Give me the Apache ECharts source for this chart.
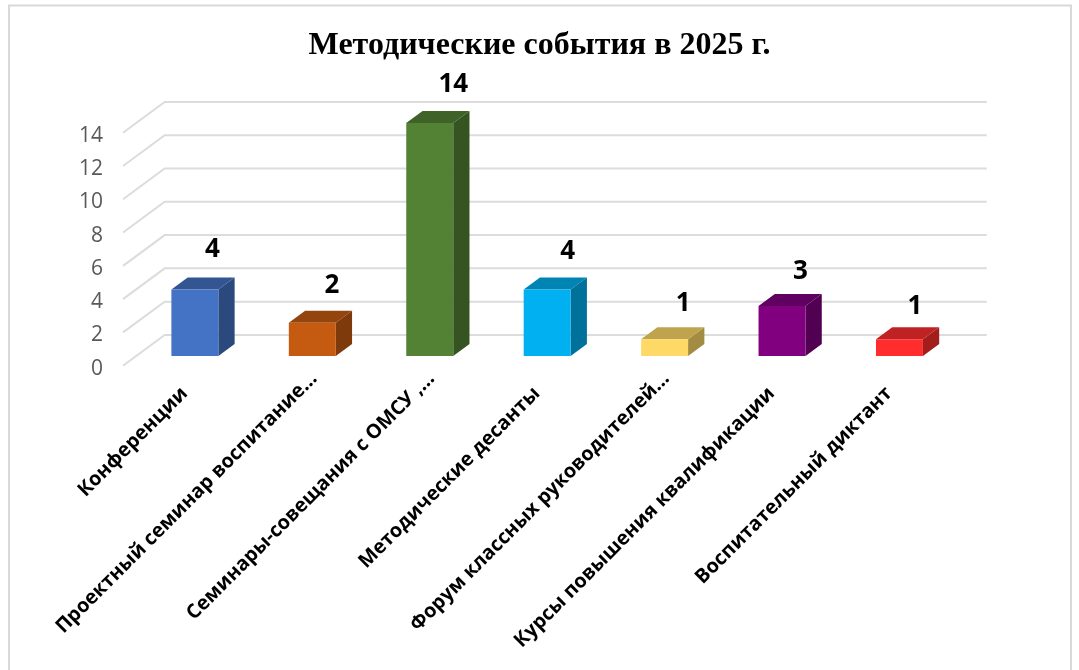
<!DOCTYPE html>
<html>
<head>
<meta charset="utf-8">
<title>Методические события в 2025 г.</title>
<style>
  html, body { margin: 0; padding: 0; background: #fff; }
  #chart { width: 1079px; height: 670px; }
</style>
<script src="https://cdn.jsdelivr.net/npm/echarts@6/dist/echarts.min.js"></script>
</head>
<body>
<div id="chart"></div>
<script>
var titleText = 'Методические события в 2025 г.';
var categories = [
  'Конференции',
  'Проектный семинар воспитание…',
  'Семинары-совещания с ОМСУ ,…',
  'Методические десанты',
  'Форум классных руководителей…',
  'Курсы повышения квалификации',
  'Воспитательный диктант'
];
var values = [4, 2, 14, 4, 1, 3, 1];
var yTicks = [0, 2, 4, 6, 8, 10, 12, 14];
var barColors = ['#4472c4', '#c55a11', '#548235', '#00b0f0', '#ffd966', '#800080', '#ff2d2d'];

// depth of the fake 3d floor, as parts of one category band
var FLOOR_DX = 0.355, FLOOR_DY = 0.262;
var BAR_W = 0.4, BAR_SHIFT = 0.316;  // bar sits a bit inside the floor
var BAR_DEPTH = 0.39;
// hand placed value labels, px from the bar's left edge / above its back edge
var labelNudgeX = [41, 43, 47, 44, 42, 42, 39];
var labelNudgeY = [28, 25, 26, 26, 24, 22, 21];

function shade(color, k) {
  var c = echarts.color.parse(color);
  return 'rgb(' + Math.round(c[0] * k) + ',' + Math.round(c[1] * k) + ',' + Math.round(c[2] * k) + ')';
}

function renderGrid(params, api) {
  var v = api.value(1);
  var band = api.size([1, 0])[0];
  var first = api.coord([0, v]);
  var last = api.coord([categories.length - 1, v]);
  var x0 = first[0] - band / 2, y0 = first[1];
  var bx = x0 + band * FLOOR_DX, by = y0 - band * FLOOR_DY;
  var ex = last[0] + band / 2 + band * FLOOR_DX;
  return {
    type: 'polyline',
    shape: { points: [[x0, y0], [bx, by], [ex, by]] },
    style: { fill: null, stroke: '#dcdcdc', lineWidth: 2 },
    silent: true
  };
}

function renderBar(params, api) {
  var i = api.value(0), v = api.value(1);
  var band = api.size([1, 0])[0];
  var top = api.coord([i, v]);
  var base = api.coord([i, 0]);
  var w = band * BAR_W;
  var sx = band * FLOOR_DX * BAR_SHIFT, sy = band * FLOOR_DY * BAR_SHIFT;
  var x = top[0] + sx - w / 2;
  var yTop = top[1] - sy, yBase = base[1] - sy;
  var dx = band * FLOOR_DX * BAR_DEPTH, dy = band * FLOOR_DY * BAR_DEPTH;
  var color = barColors[i];
  return {
    type: 'group',
    children: [
      {
        type: 'polygon',
        shape: { points: [[x + w, yTop], [x + w + dx, yTop - dy], [x + w + dx, yBase - dy], [x + w, yBase]] },
        style: { fill: shade(color, 0.64) }
      },
      {
        type: 'polygon',
        shape: { points: [[x, yTop], [x + dx, yTop - dy], [x + w + dx, yTop - dy], [x + w, yTop]] },
        style: { fill: shade(color, 0.75) }
      },
      {
        type: 'rect',
        shape: { x: x, y: yTop, width: w, height: yBase - yTop },
        style: { fill: color }
      },
      {
        type: 'text',
        style: {
          x: x + labelNudgeX[i], y: yTop - dy - labelNudgeY[i],
          text: String(v),
          fill: '#000',
          font: 'bold 26px "Open Sans"',
          textAlign: 'center',
          textVerticalAlign: 'middle'
        }
      }
    ]
  };
}

var chart = echarts.init(document.getElementById('chart'), null, { renderer: 'canvas' });
chart.setOption({
  animation: false,
  backgroundColor: '#fff',
  title: {
    text: titleText,
    left: 'center',
    top: 25,
    textStyle: { fontFamily: '"Liberation Serif"', fontWeight: 'bold', fontSize: 32, color: '#000' }
  },
  graphic: [{
    type: 'rect',
    silent: true,
    z: -1,
    shape: { x: 9, y: 5.5, width: 1062, height: 700 },
    style: { fill: null, stroke: '#d9d9d9', lineWidth: 2 }
  }],
  grid: { left: 123, top: 132.7, width: 822, height: 233 },
  xAxis: {
    type: 'category',
    // cut labels in the picture reach further up the axis than the whole ones
    data: categories.map(function (c) {
      return c.slice(-1) === '…' ? c : { value: c, textStyle: { padding: [0, 19, 0, 0], verticalAlign: 'top', lineHeight: 46 } };
    }),
    axisLine: { show: false },
    axisTick: { show: false },
    axisLabel: {
      interval: 0,
      rotate: 45,
      margin: -5,
      verticalAlign: 'top',
      lineHeight: 42,  // pushes the rotated text to the right of its band
      fontFamily: '"Open Sans"',
      fontWeight: 'bold',
      fontSize: 19.8,
      color: '#000'
    }
  },
  yAxis: {
    type: 'value',
    min: 0,
    max: 14,
    interval: 2,
    axisLine: { show: false },
    axisTick: { show: false },
    splitLine: { show: false },
    axisLabel: { margin: 20, verticalAlign: 'top', lineHeight: 6, fontFamily: '"Open Sans"', fontSize: 21, color: '#595959' }
  },
  series: [
    {
      type: 'custom',
      clip: false,
      z: 1,
      renderItem: renderGrid,
      encode: { x: 0, y: 1 },
      data: yTicks.map(function (t) { return [0, t]; })
    },
    {
      type: 'custom',
      clip: false,
      z: 2,
      renderItem: renderBar,
      encode: { x: 0, y: 1 },
      data: values.map(function (v, i) { return [i, v]; })
    }
  ]
});
</script>
</body>
</html>
